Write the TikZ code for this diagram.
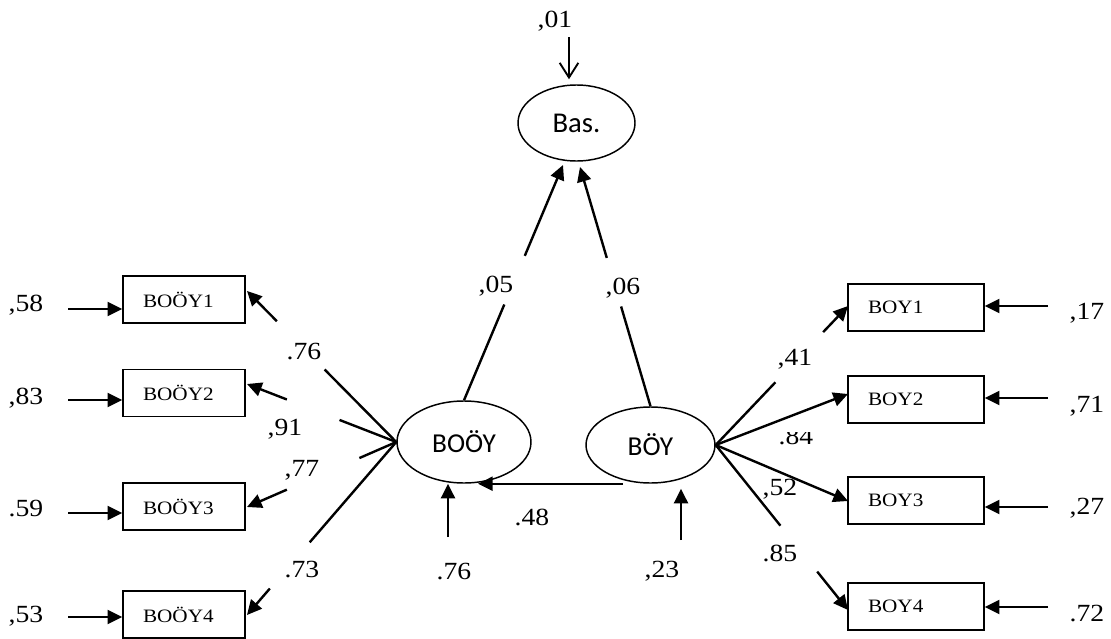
\documentclass[tikz,border=0pt]{standalone}
\usepackage{fontspec}
\setmainfont{Liberation Serif}
\newfontfamily\latentfont{Carlito}
\newfontfamily\numfont[FakeStretch=1.12]{Liberation Serif}
\usetikzlibrary{arrows.meta,shapes.geometric,calc}

\begin{document}
\begin{tikzpicture}[x=0.75pt,y=-0.75pt,
  lat/.style={ellipse,draw,line width=1.1pt,inner sep=0pt,
    font=\latentfont\fontsize{20.5}{20.5}\selectfont},
  obs/.style={rectangle,draw,line width=1.2pt,minimum height=35.25pt,
    inner xsep=15pt,inner ysep=0pt,align=left,
    font=\numfont\fontsize{14.2}{14.2}\selectfont},
  coef/.style={inner sep=0pt,text height=12.5pt,text depth=0pt,
    font=\numfont\fontsize{18.5}{18.5}\selectfont},
  ln/.style={line width=1.8pt},
  arr/.style={ln,-{Triangle[length=11pt,width=10.5pt]}},
  barb/.style={line width=1.4pt,-{Straight Barb[length=11pt,width=14pt]}}]

\useasboundingbox (0,0) rectangle (1111,639);

% latent variables
\node[lat,minimum width=87.75pt,minimum height=57pt,
  font=\latentfont\fontsize{21.5}{21.5}\selectfont] (bas) at (576.5,123) {Bas.};
\node[lat,minimum width=100.5pt,minimum height=61.5pt] (booy) at (464,442) {BOÖY};
\node[lat,minimum width=96.75pt,minimum height=57pt] (boy) at (650.5,445) {BÖY};

% indicators of BOÖY
\node[obs,text width=61.5pt] (l1) at (184,299.5) {BOÖY1};
\node[obs,text width=61.5pt] (l2) at (184,393) {BOÖY2};
\node[obs,text width=61.5pt] (l3) at (184,506.5) {BOÖY3};
\node[obs,text width=61.5pt] (l4) at (184,614.5) {BOÖY4};

% indicators of BÖY
\node[obs,text width=72pt] (r1) at (916,307.5) {BOY1};
\node[obs,text width=72pt] (r2) at (916,399.5) {BOY2};
\node[obs,text width=72pt] (r3) at (916,500.5) {BOY3};
\node[obs,text width=72pt] (r4) at (916,606.5) {BOY4};

% arrow tips of the loadings
\coordinate (tl1) at (247,291);
\coordinate (tl2) at (247,384);
\coordinate (tl3) at (247,507);
\coordinate (tl4) at (247,615);
\coordinate (tr1) at (848,306);
\coordinate (tr2) at (848,394);
\coordinate (tr3) at (848,501);
\coordinate (tr4) at (848,610);

% loadings of BOÖY (broken round their coefficients)
\draw[ln] (booy.west) -- ($(booy.west)!.48!(tl1)$);
\draw[arr] ($(booy.west)!.80!(tl1)$) -- (tl1);
\draw[ln] (booy.west) -- ($(booy.west)!.38!(tl2)$);
\draw[arr] ($(booy.west)!.733!(tl2)$) -- (tl2);
\draw[ln] (booy.west) -- ($(booy.west)!.247!(tl3)$);
\draw[arr] ($(booy.west)!.733!(tl3)$) -- (tl3);
\draw[ln] (booy.west) -- ($(booy.west)!.58!(tl4)$);
\draw[arr] ($(booy.west)!.847!(tl4)$) -- (tl4);

% loadings of BÖY
\draw[ln] (boy.east) -- ($(boy.east)!.451!(tr1)$);
\draw[arr] ($(boy.east)!.812!(tr1)$) -- (tr1);
\draw[arr] (boy.east) -- (tr2);
\draw[arr] (boy.east) -- (tr3);
\draw[ln] (boy.east) -- ($(boy.east)!.489!(tr4)$);
\draw[arr] ($(boy.east)!.767!(tr4)$) -- (tr4);

% structural paths to Bas.
\coordinate (ta) at (563,165);
\coordinate (tb) at (580,167);
\draw[ln] (booy.north) -- ($(booy.north)!.407!(ta)$);
\draw[arr] ($(booy.north)!.614!(ta)$) -- (ta);
\draw[ln] (boy.north) -- ($(boy.north)!.417!(tb)$);
\draw[arr] ($(boy.north)!.62!(tb)$) -- (tb);

% BÖY -> BOÖY
\draw[arr] ($(boy.south)+(-27.5,0)$) -- ($(booy.south)+(14,0)$);

% disturbance terms
\coordinate (e0) at (569,37);
\draw[barb,shorten >=3.75pt] (e0) -- (e0 |- bas.north);
\coordinate (eu) at (448,537);
\draw[arr] (eu) -- (eu |- booy.south);
\coordinate (ev) at (681,540);
\draw[arr] (ev) -- ($(ev |- boy.south)+(0,5)$);

% measurement errors
\coordinate (el1) at (68,309);
\coordinate (el2) at (68,400);
\coordinate (el3) at (68,513);
\coordinate (el4) at (68,617);
\draw[arr] (el1) -- (el1 -| l1.west);
\draw[arr] (el2) -- (el2 -| l2.west);
\draw[arr] (el3) -- (el3 -| l3.west);
\draw[arr] (el4) -- (el4 -| l4.west);
\coordinate (er1) at (1048,306);
\coordinate (er2) at (1048,398);
\coordinate (er3) at (1048,507);
\coordinate (er4) at (1048,607);
\draw[arr] (er1) -- (er1 -| r1.east);
\draw[arr] (er2) -- (er2 -| r2.east);
\draw[arr] (er3) -- (er3 -| r3.east);
\draw[arr] (er4) -- (er4 -| r4.east);

% coefficients
\node[coef] (c01) at (555,19) {,01};
\node[coef] (c05) at (496,284) {,05};
\node[coef] (c06) at (623,286) {,06};

\node[coef] (c58) at (26,303) {,58};
\node[coef] (c83) at (26,396) {,83};
\node[coef] (c59) at (26,508) {.59};
\node[coef] (c53) at (26,614) {,53};

\node[coef] (k76) at (304,351) {.76};
\node[coef] (k91) at (285,427) {,91};
\node[coef] (k77) at (302,468) {,77};
\node[coef] (k73) at (302,569) {.73};

\node[coef] (k41) at (795,357) {,41};
\begin{scope}
  \clip (760,432) rectangle (830,460);
  \node[coef] (k84) at (796,436.5) {.84};
\end{scope}
\node[coef] (k52) at (780,487) {,52};
\node[coef] (k85) at (780,553) {.85};

\node[coef] (c17) at (1087,311) {,17};
\node[coef] (c71) at (1087,404) {,71};
\node[coef] (c27) at (1087,506) {,27};
\node[coef] (c72) at (1087,613) {.72};

\node[coef] (c48) at (532,517) {.48};
\node[coef] (c76) at (454,571) {.76};
\node[coef] (c23) at (662,569) {,23};

\end{tikzpicture}
\end{document}
